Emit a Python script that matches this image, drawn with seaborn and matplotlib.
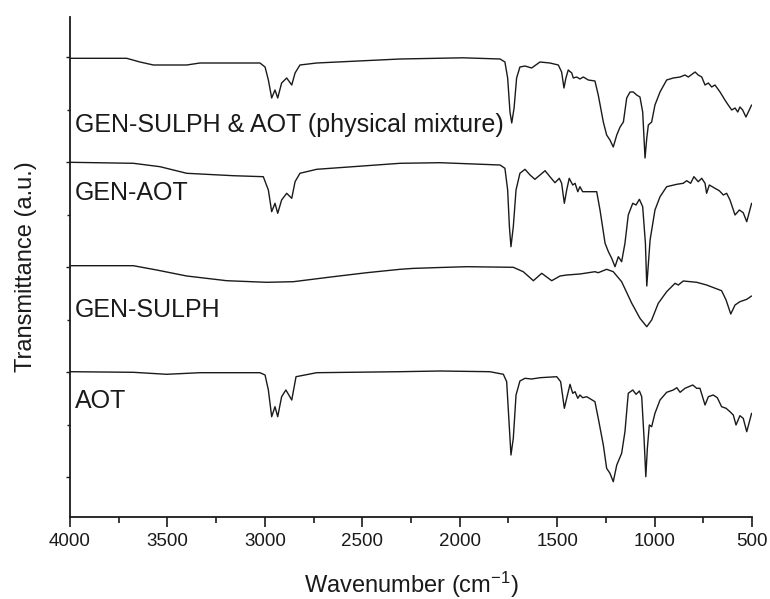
import matplotlib
matplotlib.use("Agg")
import matplotlib.pyplot as plt
from matplotlib.ticker import MultipleLocator, FixedLocator
import seaborn as sns
import pandas as pd

# ---------------- data (wavenumber in cm-1, transmittance in a.u., offset-stacked) -------------
mix_wn = [4000, 3709, 3641, 3572, 3401, 3333, 3025, 2999, 2982, 2965,
          2948, 2934, 2914, 2888, 2862, 2845, 2820, 2734, 2306, 1983,
          1793, 1768, 1754, 1742, 1733, 1721, 1708, 1691, 1665, 1631,
          1588, 1537, 1494, 1477, 1465, 1455, 1443, 1425, 1417, 1400,
          1383, 1366, 1340, 1306, 1289, 1263, 1246, 1229, 1212, 1194,
          1177, 1160, 1143, 1126, 1109, 1092, 1075, 1061, 1049, 1040,
          1032, 1015, 998, 972, 938, 904, 869, 844, 827, 792,
          776, 758, 741, 724, 707, 690, 664, 639, 622, 604,
          587, 573, 562, 548, 531, 502]
mix_t = [458.7, 458.7, 455, 452, 452, 454, 454, 450, 437, 419,
         427, 419, 434, 439, 432, 444, 452, 454, 458, 459.2,
         458, 455, 439, 405, 394, 409, 439, 450, 451, 449,
         455, 454, 452, 445, 429, 439, 447, 444, 439, 440,
         438, 440, 437, 436, 422, 395, 382, 377, 370, 382,
         390, 395, 419, 425, 425, 422, 420, 405, 359, 379,
         392, 395, 412, 425, 437, 439, 440, 442, 440, 445,
         442, 440, 432, 434, 430, 432, 425, 417, 412, 407,
         409, 405, 410, 407, 400, 412]

genaot_wn = [4000, 3675, 3538, 3401, 3162, 3008, 2982, 2965, 2948, 2934,
             2914, 2888, 2862, 2845, 2820, 2734, 2306, 2101, 1793, 1768,
             1754, 1745, 1737, 1725, 1711, 1691, 1665, 1639, 1614, 1588,
             1562, 1537, 1511, 1489, 1477, 1463, 1451, 1438, 1420, 1408,
             1394, 1383, 1369, 1348, 1297, 1280, 1254, 1237, 1220, 1203,
             1186, 1169, 1152, 1135, 1112, 1095, 1078, 1061, 1047, 1040,
             1023, 998, 972, 938, 886, 853, 835, 815, 798, 776,
             758, 741, 733, 719, 690, 668, 647, 630, 613, 587,
             565, 545, 527, 502]
genaot_t = [354.7, 353.7, 350.3, 343.7, 341.3, 340.3, 327, 305.3, 313.7, 303.7,
            317, 323.7, 318.7, 335.3, 343.7, 347.7, 353.7, 354.3, 352, 348.7,
            327, 290.3, 270.3, 290.3, 327, 343.7, 347.7, 342, 337.7, 342,
            346.3, 340.3, 334.3, 338.7, 333.7, 313.7, 327, 338.7, 332, 333.7,
            325.3, 330.3, 325.3, 325.3, 325.3, 307, 273.7, 265.3, 258.7, 250.3,
            260.3, 255.3, 273.7, 302, 313.7, 312, 317.7, 310.3, 273.7, 231,
            277, 307, 320.3, 330.3, 332.7, 333.7, 336.3, 333.7, 340.3, 335.3,
            338.7, 333.7, 323.7, 332, 328.7, 326.3, 322, 323.7, 317, 302,
            307, 304.3, 295.3, 313.7]

gensulph_wn = [4000, 3675, 3555, 3401, 3196, 2991, 2854, 2649, 2477, 2306,
               2240, 2101, 1964, 1725, 1674, 1622, 1579, 1528, 1485, 1451,
               1383, 1306, 1289, 1246, 1212, 1169, 1117, 1075, 1040, 1015,
               981, 938, 895, 878, 853, 784, 733, 656, 633, 609,
               587, 562, 527, 502]
gensulph_t = [251.3, 251.3, 247, 241, 236.3, 234.7, 235.3, 240.3, 244.3, 247.7,
              248.6, 249.5, 250.3, 249.7, 245.3, 236.3, 243.7, 236.3, 241, 242,
              243, 245.3, 244.3, 247.7, 245.3, 235.3, 213.7, 198.7, 190.3, 197,
              213.7, 225.3, 233.7, 232, 236, 234.7, 232, 226.3, 217, 203,
              212, 215.3, 217.7, 221]

aot_wn = [4000, 3675, 3504, 3333, 3025, 2999, 2982, 2965, 2948, 2934,
          2914, 2892, 2862, 2840, 2734, 2306, 2101, 1845, 1776, 1759,
          1747, 1737, 1725, 1711, 1691, 1665, 1631, 1588, 1502, 1482,
          1463, 1451, 1434, 1420, 1408, 1394, 1383, 1369, 1348, 1306,
          1289, 1263, 1246, 1229, 1212, 1194, 1169, 1152, 1135, 1112,
          1095, 1078, 1066, 1054, 1045, 1037, 1027, 1015, 998, 972,
          938, 904, 886, 869, 844, 804, 784, 767, 741, 724,
          699, 678, 656, 633, 613, 596, 582, 562, 545, 527,
          502]
aot_t = [145.3, 144.7, 142.7, 144.3, 144.3, 142, 127, 100.3, 110.3, 100.3,
         120.3, 127, 117, 140.3, 144.3, 145.3, 146, 145.3, 142.7, 135.3,
         95.3, 62, 78.7, 122, 136, 138.7, 138, 139.3, 140.3, 135.3,
         108.7, 118.7, 132.7, 123.7, 125.3, 118.7, 122, 119.3, 120.3, 115.3,
         98.7, 72, 48.7, 43.7, 35.3, 52, 63.7, 85.3, 123.7, 127,
         122.7, 126, 120.3, 78.7, 40.3, 68.7, 92, 90.3, 103.7, 117,
         124.7, 127, 129.3, 124.7, 128.7, 132, 128.7, 128.7, 112, 120.3,
         122, 119.3, 110.3, 108.7, 105.3, 102, 92, 101.3, 98.7, 85.3,
         103.7]

labels = ["GEN-SULPH & AOT (physical mixture)", "GEN-AOT", "GEN-SULPH", "AOT"]
label_y = [385, 317, 200, 109]
x_ticks = [4000, 3500, 3000, 2500, 2000, 1500, 1000, 500]

# ---------------- style -------------------
sns.set_style("ticks")
plt.rcParams["font.family"] = ["Liberation Sans", "DejaVu Sans"]
plt.rcParams["mathtext.fontset"] = "custom"
plt.rcParams["mathtext.rm"] = "Liberation Sans"
plt.rcParams["mathtext.default"] = "regular"

INK = "#1a1a1a"

fig = plt.figure(figsize=(7.70, 5.99), dpi=100)
ax = fig.add_axes([70 / 770, 1 - 517 / 599, 682 / 770, 500 / 599])

series = [(mix_wn, mix_t), (genaot_wn, genaot_t), (gensulph_wn, gensulph_t), (aot_wn, aot_t)]
for (wn, t), name in zip(series, labels):
    df = pd.DataFrame({"wavenumber": wn, "T": t})
    sns.lineplot(data=df, x="wavenumber", y="T", ax=ax, color=INK, linewidth=1.0,
                 estimator=None, sort=False)

for name, ly in zip(labels, label_y):
    ax.text(3975, ly, name, fontsize=18, color=INK, ha="left", va="baseline")

ax.set_xlim(4000, 500)
ax.set_ylim(0, 500)
ax.xaxis.set_major_locator(FixedLocator(x_ticks))
ax.xaxis.set_minor_locator(MultipleLocator(250))
ax.yaxis.set_major_locator(FixedLocator([40, 145, 250, 355, 460]))
ax.yaxis.set_minor_locator(FixedLocator([92.5, 197.5, 302.5, 407.5]))
ax.set_yticklabels([])

ax.tick_params(axis="x", which="major", direction="out", length=7, width=1.2,
               labelsize=13.5, pad=4.5, colors=INK)
ax.tick_params(axis="x", which="minor", direction="out", length=4, width=1.2, colors=INK)
ax.tick_params(axis="y", which="major", direction="out", length=3, width=1.0, colors=INK)
ax.tick_params(axis="y", which="minor", direction="out", length=2, width=1.0, colors=INK)

for s in ["top", "right"]:
    ax.spines[s].set_visible(False)
for s in ["left", "bottom"]:
    ax.spines[s].set_linewidth(1.3)
    ax.spines[s].set_color(INK)

ax.set_xlabel("Wavenumber (cm$^{-1}$)", fontsize=17, color=INK, labelpad=14)
ax.set_ylabel("Transmittance (a.u.)", fontsize=17, color=INK, labelpad=17)

fig.savefig("out.png", dpi=100)
